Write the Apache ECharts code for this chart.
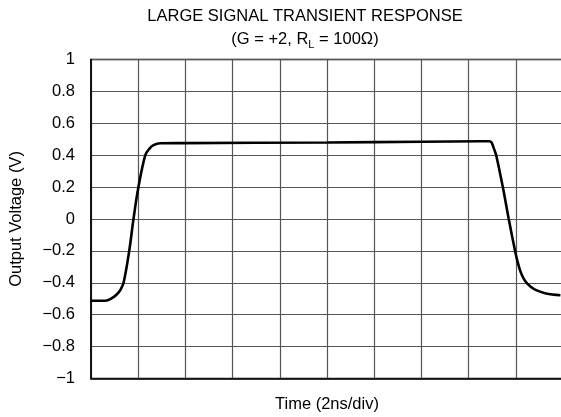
<!DOCTYPE html>
<html>
<head>
<meta charset="utf-8">
<script src="https://cdn.jsdelivr.net/npm/echarts@6/dist/echarts.min.js"></script>
<style>
html,body{margin:0;padding:0;background:#fff;}
#c{width:561px;height:417px;}
</style>
</head>
<body>
<div id="c"></div>
<script>
// Time in ns (2 ns per division), output voltage in V
var timeNs = [0, 0.6, 0.9, 1.11, 1.24, 1.38, 1.62, 1.8, 2.01, 2.3, 2.47, 2.65, 2.93, 4, 10, 14, 16.5, 16.88, 16.97, 17.1, 17.17, 17.45, 17.7, 17.97, 18.08, 18.2, 18.32, 18.46, 18.66, 18.86, 19.28, 19.89];
var voltage = [-0.513, -0.513, -0.495, -0.47, -0.446, -0.4, -0.2, 0, 0.2, 0.4, 0.44, 0.463, 0.475, 0.476, 0.48, 0.484, 0.487, 0.487, 0.48, 0.43, 0.4, 0.2, 0, -0.2, -0.27, -0.33, -0.37, -0.4, -0.428, -0.446, -0.467, -0.478];
var yTicks = [-1, -0.8, -0.6, -0.4, -0.2, 0, 0.2, 0.4, 0.6, 0.8, 1];

var FONT = 'Liberation Sans, Arial, sans-serif';
var pts = timeNs.map(function (t, i) { return [t, voltage[i]]; });

var chart = echarts.init(document.getElementById('c'), null, {renderer: 'canvas'});
chart.setOption({
  animation: false,
  backgroundColor: '#fff',
  title: [
    {text: 'LARGE SIGNAL TRANSIENT RESPONSE', left: 300, top: 3, textAlign: 'center',
     textStyle: {fontFamily: FONT, fontSize: 16.5, fontWeight: 'normal', color: '#000'}},
    {text: '(G = +2, R{s|L} = 100Ω)', left: 300, top: 24, textAlign: 'center',
     textStyle: {fontFamily: FONT, fontSize: 16.5, fontWeight: 'normal', color: '#000',
       rich: {s: {fontFamily: FONT, fontSize: 11, color: '#000', padding: [10, 0, 0, 0]}}}}
  ],
  grid: {left: 91, top: 59.5, width: 472, height: 319, show: true, borderColor: '#000', borderWidth: 1.5,
         containLabel: false, outerBoundsMode: 'none'},
  xAxis: {
    type: 'value', min: 0, max: 20, interval: 2,
    name: 'Time (2ns/div)', nameLocation: 'middle', nameGap: 17,
    nameTextStyle: {fontFamily: FONT, fontSize: 16.5, color: '#000'},
    axisLine: {show: true, onZero: false, lineStyle: {color: '#000', width: 1.5}},
    axisTick: {show: false},
    axisLabel: {show: false},
    splitLine: {show: true, lineStyle: {color: '#555', width: 1.2}}
  },
  yAxis: {
    type: 'value', min: -1, max: 1, interval: 0.2,
    name: 'Output Voltage (V)', nameLocation: 'middle', nameGap: 66,
    nameTextStyle: {fontFamily: FONT, fontSize: 16.5, color: '#000'},
    axisLine: {show: true, onZero: false, lineStyle: {color: '#000', width: 1.5}},
    axisTick: {show: false},
    axisLabel: {
      margin: 16, fontFamily: FONT, fontSize: 16.5, color: '#000',
      formatter: function (v) {
        var r = Math.round(v * 10) / 10;
        var best = yTicks.reduce(function (a, b) { return Math.abs(b - r) < Math.abs(a - r) ? b : a; });
        var s = String(Math.abs(best));
        return best < 0 ? '\u2212' + s : s;
      }
    },
    splitLine: {show: true, lineStyle: {color: '#555', width: 1.2}}
  },
  series: [{
    type: 'line', data: pts, showSymbol: false, smooth: 0.35,
    lineStyle: {color: '#000', width: 2.6}
  }]
});
</script>
</body>
</html>
